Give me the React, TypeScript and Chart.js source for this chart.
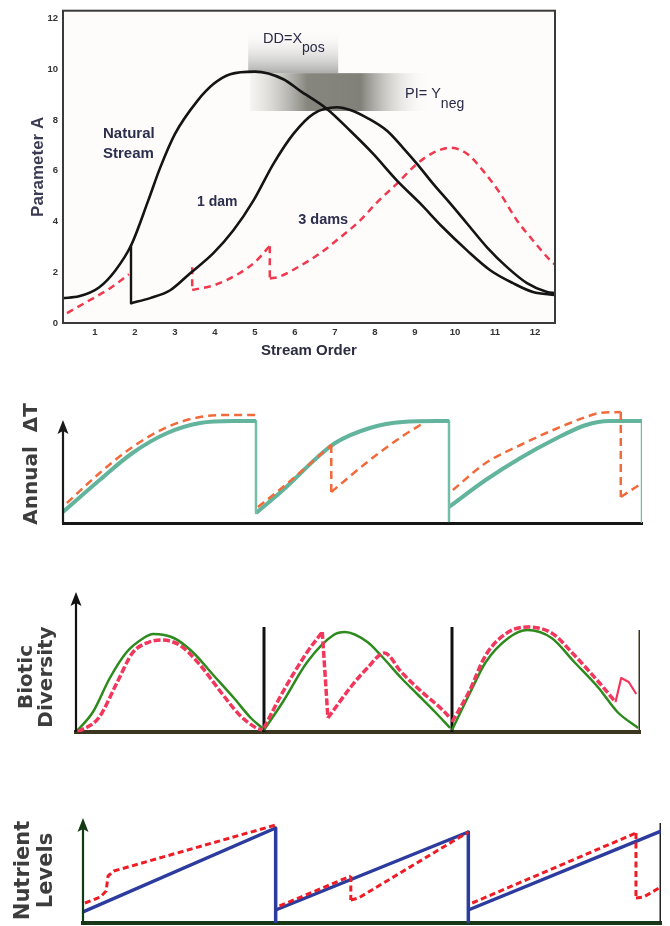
import React, { useEffect, useRef } from 'react';
import { Chart, registerables } from 'chart.js';

Chart.register(...registerables);

type Pt = [number, number];

const FONT = '"Liberation Sans", Arial, Helvetica, sans-serif';
const WIDE = '"DejaVu Sans", Verdana, sans-serif';

// ---------------- Panel 1 : Parameter A vs Stream Order ----------------
const streamOrderTicks = [1, 2, 3, 4, 5, 6, 7, 8, 9, 10, 11, 12];
const parameterTicks = [0, 2, 4, 6, 8, 10, 12];

const naturalStream: Pt[] = [
  [0.2, 0.98], [0.6, 1.05], [1.1, 1.4], [1.5, 2.05], [1.9, 3.05], [2.33, 4.82], [2.63, 6.12],
  [3.0, 7.45], [3.56, 8.75], [3.96, 9.41], [4.38, 9.8], [5.0, 9.9], [5.71, 9.6], [6.13, 9.14],
  [6.8, 8.43], [7.38, 7.57], [7.95, 6.67], [8.55, 5.61], [9.13, 4.71], [9.7, 3.76], [10.3, 2.86],
  [10.88, 2.08], [11.45, 1.57], [11.95, 1.22], [12.5, 1.1],
];
const oneDamDrop: Pt[] = [[1.9, 3.05], [1.9, 0.78]];
const oneDam: Pt[] = [
  [1.9, 0.78], [2.38, 0.98], [2.88, 1.29], [3.38, 1.96], [3.96, 2.75], [4.46, 3.65], [4.96, 4.82],
  [5.46, 6.27], [5.96, 7.45], [6.46, 8.24], [7.05, 8.5], [7.4, 8.38], [7.8, 8.08], [8.3, 7.57],
  [8.7, 6.9], [9.05, 6.27], [9.45, 5.49], [9.88, 4.71], [10.3, 3.92], [10.8, 2.98], [11.3, 2.2],
  [11.8, 1.57], [12.3, 1.22], [12.5, 1.18],
];
const threeDamsA: Pt[] = [[0.3, 0.39], [0.87, 0.9], [1.38, 1.37], [1.85, 1.92]];
const threeDamsDrop1: Pt[] = [[3.43, 2.2], [3.43, 1.3]];
const threeDamsB: Pt[] = [[3.43, 1.3], [4.0, 1.5], [4.6, 1.95], [5.0, 2.4], [5.36, 3.02]];
const threeDamsDrop2: Pt[] = [[5.37, 3.02], [5.37, 1.75]];
const threeDamsC: Pt[] = [
  [5.37, 1.75], [5.6, 1.82], [6.13, 2.25], [6.63, 2.75], [7.13, 3.37], [7.63, 4.04], [8.05, 4.75],
  [8.55, 5.49], [9.05, 6.27], [9.45, 6.7], [9.88, 6.9], [10.3, 6.67], [10.7, 6.0], [11.13, 5.1],
  [11.55, 4.04], [11.95, 3.25], [12.38, 2.47], [12.5, 2.3],
];

// annotation anchors (data coordinates)
const naturalLabelAt: Pt = [1.2, 7.45];
const oneDamLabelAt: Pt = [3.55, 4.75];
const threeDamsLabelAt: Pt = [6.08, 4.04];
const ddLabelAt: Pt = [5.2, 11.2];
const piLabelAt: Pt = [8.75, 9.02];
const ddBoxX = [4.83, 7.08];
const ddBoxY = [9.84, 11.6];
const piBoxX = [4.88, 9.63];
const piBoxY = [8.35, 9.84];

// ---------------- Panel 2 : Annual ΔT ----------------
const tempNaturalA: Pt[] = [[0, 0.11], [0.19, 0.43], [0.36, 0.7], [0.54, 0.9], [0.71, 1.0], [0.88, 1.02], [1.0, 1.02]];
const tempNaturalDrop1: Pt[] = [[1, 1.02], [1, 0.1]];
const tempNaturalB: Pt[] = [[1.0, 0.1], [1.14, 0.33], [1.32, 0.66], [1.41, 0.8], [1.59, 0.95], [1.76, 1.01], [2.0, 1.02]];
const tempNaturalDrop2: Pt[] = [[2, 1.02], [2, 0.02]];
const tempNaturalC: Pt[] = [[2.0, 0.16], [2.19, 0.43], [2.37, 0.65], [2.54, 0.83], [2.71, 0.98], [2.83, 1.02], [3.0, 1.02]];
const tempNaturalDrop3: Pt[] = [[3, 1.02], [3, 0]];

const tempDamA: Pt[] = [[0.02, 0.2], [0.19, 0.5], [0.36, 0.76], [0.54, 0.96], [0.71, 1.06], [0.88, 1.08], [1.0, 1.08]];
const tempDamB: Pt[] = [[1.01, 0.16], [1.14, 0.36], [1.32, 0.66], [1.39, 0.78]];
const tempDamDrop1: Pt[] = [[1.39, 0.78], [1.39, 0.31]];
const tempDamC: Pt[] = [[1.39, 0.31], [1.59, 0.63], [1.76, 0.87], [1.86, 0.99]];
const tempDamD: Pt[] = [[2.02, 0.33], [2.19, 0.6], [2.37, 0.78], [2.54, 0.93], [2.71, 1.06], [2.78, 1.1], [2.89, 1.11]];
const tempDamDrop2: Pt[] = [[2.89, 1.11], [2.89, 0.26]];
const tempDamE: Pt[] = [[2.89, 0.26], [3.0, 0.4]];

// ---------------- Panel 3 : Biotic Diversity ----------------
const bioNaturalA: Pt[] = [[0, 0], [0.09, 0.2], [0.18, 0.54], [0.27, 0.8], [0.36, 0.94], [0.41, 0.98], [0.52, 0.94], [0.62, 0.8], [0.73, 0.57], [0.84, 0.34], [0.93, 0.14], [0.99, 0.04]];
const bioNaturalB: Pt[] = [[1.0, 0.02], [1.1, 0.3], [1.23, 0.7], [1.37, 0.97], [1.43, 1.0], [1.55, 0.9], [1.63, 0.75], [1.73, 0.54], [1.82, 0.37], [1.91, 0.2], [1.99, 0.04]];
const bioNaturalC: Pt[] = [[2.0, 0.02], [2.09, 0.37], [2.18, 0.7], [2.3, 0.94], [2.4, 1.02], [2.53, 0.94], [2.65, 0.7], [2.78, 0.44], [2.88, 0.2], [2.99, 0.04]];
const bioDamA: Pt[] = [[0.01, 0], [0.12, 0.14], [0.22, 0.5], [0.3, 0.79], [0.39, 0.9], [0.45, 0.92], [0.55, 0.87], [0.66, 0.67], [0.77, 0.4], [0.87, 0.17], [0.96, 0.04], [0.99, 0.02]];
const bioDamB: Pt[] = [[1.0, 0.04], [1.1, 0.4], [1.23, 0.8], [1.31, 1.0]];
const bioDamDrop: Pt[] = [[1.31, 1.0], [1.34, 0.14]];
const bioDamC: Pt[] = [[1.34, 0.14], [1.47, 0.47], [1.55, 0.64], [1.64, 0.79], [1.73, 0.6], [1.84, 0.4], [1.95, 0.22], [1.99, 0.14]];
const bioDamD: Pt[] = [[2.0, 0.1], [2.09, 0.4], [2.18, 0.77], [2.3, 1.0], [2.4, 1.05], [2.53, 0.99], [2.65, 0.77], [2.78, 0.5], [2.87, 0.3]];
const bioDamZig: Pt[] = [[2.87, 0.3], [2.9, 0.54], [2.94, 0.5], [2.98, 0.38]];
const bioDividers: Pt[] = [[1, 0], [1, 1.05]];
const bioDividers2: Pt[] = [[2, 0], [2, 1.05]];
const bioDividerEnd: Pt[] = [[3, 0], [3, 1.02]];

// ---------------- Panel 4 : Nutrient Levels ----------------
const nutNaturalA: Pt[] = [[0, 0.11], [1, 0.95]];
const nutNaturalDrop1: Pt[] = [[1, 0.95], [1, 0]];
const nutNaturalB: Pt[] = [[1, 0.13], [2, 0.91]];
const nutNaturalDrop2: Pt[] = [[2, 0.91], [2, 0]];
const nutNaturalC: Pt[] = [[2, 0.13], [3, 0.92]];
const nutEnd: Pt[] = [[3, 0], [3, 1.0]];
const nutDamA: Pt[] = [[0.01, 0.2], [0.09, 0.26], [0.12, 0.32], [0.13, 0.47], [0.16, 0.52], [1.0, 0.98]];
const nutDamB: Pt[] = [[1.02, 0.17], [1.39, 0.47]];
const nutDamDrop1: Pt[] = [[1.39, 0.47], [1.39, 0.23]];
const nutDamC: Pt[] = [[1.39, 0.23], [1.43, 0.25], [2.0, 0.91]];
const nutDamD: Pt[] = [[2.02, 0.2], [2.87, 0.9]];
const nutDamDrop2: Pt[] = [[2.87, 0.9], [2.87, 0.25]];
const nutDamE: Pt[] = [[2.87, 0.25], [2.91, 0.26], [2.99, 0.35]];

// ---------------- helpers ----------------
function ds(pts: Pt[], color: string, width: number, dash: number[] = [], smooth = false) {
  return {
    data: pts.map(([x, y]) => ({ x, y })),
    borderColor: color,
    backgroundColor: color,
    borderWidth: width,
    borderDash: dash,
    pointRadius: 0,
    pointHoverRadius: 0,
    fill: false,
    tension: 0,
    cubicInterpolationMode: smooth ? 'monotone' : 'default',
    borderCapStyle: 'butt',
    borderJoinStyle: 'round',
  };
}

function arrowAxis(color: string, width: number, tip: number) {
  return {
    id: 'arrowAxis',
    afterDatasetsDraw(chart: any) {
      const { ctx, scales } = chart;
      const x = scales.x;
      const y = scales.y;
      const px = x.getPixelForValue(x.min);
      const yb = y.getPixelForValue(0);
      const yt = y.getPixelForValue(tip);
      ctx.save();
      ctx.strokeStyle = color;
      ctx.fillStyle = color;
      ctx.lineWidth = width;
      ctx.beginPath();
      ctx.moveTo(px, yb);
      ctx.lineTo(px, yt + 9);
      ctx.stroke();
      ctx.beginPath();
      ctx.moveTo(px, yt);
      ctx.lineTo(px - 5.5, yt + 14);
      ctx.lineTo(px, yt + 11);
      ctx.lineTo(px + 5.5, yt + 14);
      ctx.closePath();
      ctx.fill();
      ctx.restore();
    },
  };
}

const p1Deco = {
  id: 'p1Deco',
  beforeDatasetsDraw(chart: any) {
    const { ctx, chartArea: a, scales } = chart;
    const x = scales.x;
    const y = scales.y;
    ctx.save();
    ctx.fillStyle = '#fdfcfa';
    ctx.fillRect(a.left, a.top, a.right - a.left, a.bottom - a.top);
    const dx0 = x.getPixelForValue(ddBoxX[0]);
    const dx1 = x.getPixelForValue(ddBoxX[1]);
    const dy0 = y.getPixelForValue(ddBoxY[1]);
    const dy1 = y.getPixelForValue(ddBoxY[0]);
    const g1 = ctx.createLinearGradient(0, dy0, 0, dy1);
    g1.addColorStop(0, 'rgba(255,255,255,0)');
    g1.addColorStop(1, 'rgba(165,165,162,0.9)');
    ctx.fillStyle = g1;
    ctx.fillRect(dx0, dy0, dx1 - dx0, dy1 - dy0);
    const px0 = x.getPixelForValue(piBoxX[0]);
    const px1 = x.getPixelForValue(piBoxX[1]);
    const py0 = y.getPixelForValue(piBoxY[1]);
    const py1 = y.getPixelForValue(piBoxY[0]);
    const g2 = ctx.createLinearGradient(px0, 0, px1, 0);
    g2.addColorStop(0, 'rgba(232,232,228,0.4)');
    g2.addColorStop(0.3, 'rgba(128,128,120,0.95)');
    g2.addColorStop(0.58, 'rgba(122,122,114,0.95)');
    g2.addColorStop(0.95, 'rgba(255,255,255,0)');
    ctx.fillStyle = g2;
    ctx.fillRect(px0, py0, px1 - px0, py1 - py0);
    ctx.restore();
  },
  afterDatasetsDraw(chart: any) {
    const { ctx, chartArea: a, scales } = chart;
    const x = scales.x;
    const y = scales.y;
    ctx.save();
    ctx.strokeStyle = '#3a3a3a';
    ctx.lineWidth = 2;
    ctx.strokeRect(a.left, a.top, a.right - a.left, a.bottom - a.top);
    ctx.fillStyle = '#2c2e4e';
    ctx.textAlign = 'left';
    ctx.textBaseline = 'middle';
    ctx.font = `bold 15px ${FONT}`;
    const nx = x.getPixelForValue(naturalLabelAt[0]);
    const ny = y.getPixelForValue(naturalLabelAt[1]);
    ctx.fillText('Natural', nx, ny);
    ctx.fillText('Stream', nx, ny + 20);
    ctx.font = `bold 14px ${FONT}`;
    ctx.fillText('1 dam', x.getPixelForValue(oneDamLabelAt[0]), y.getPixelForValue(oneDamLabelAt[1]));
    ctx.font = `bold 14.5px ${FONT}`;
    ctx.fillText('3 dams', x.getPixelForValue(threeDamsLabelAt[0]), y.getPixelForValue(threeDamsLabelAt[1]));
    ctx.fillStyle = '#2a2a46';
    ctx.font = `14.5px ${FONT}`;
    const dxp = x.getPixelForValue(ddLabelAt[0]);
    const dyp = y.getPixelForValue(ddLabelAt[1]);
    ctx.fillText('DD=X', dxp, dyp);
    const w1 = ctx.measureText('DD=X').width;
    ctx.font = `14px ${FONT}`;
    ctx.fillText('pos', dxp + w1, dyp + 10);
    ctx.font = `14.5px ${FONT}`;
    const pxp = x.getPixelForValue(piLabelAt[0]);
    const pyp = y.getPixelForValue(piLabelAt[1]);
    ctx.fillText('PI= Y', pxp, pyp);
    const w2 = ctx.measureText('PI= Y').width;
    ctx.font = `14px ${FONT}`;
    ctx.fillText('neg', pxp + w2, pyp + 10);
    ctx.restore();
  },
};

const BLACK = '#141414';
const RED1 = '#f0384e';

function config1(): any {
  return {
    type: 'line',
    data: {
      datasets: [
        ds(naturalStream, BLACK, 2.6, [], true),
        ds(oneDamDrop, BLACK, 2.4),
        ds(oneDam, BLACK, 2.6, [], true),
        ds(threeDamsA, RED1, 2.5, [7, 5], true),
        ds(threeDamsDrop1, RED1, 2.5, [7, 5]),
        ds(threeDamsB, RED1, 2.5, [7, 5], true),
        ds(threeDamsDrop2, RED1, 2.5, [7, 5]),
        ds(threeDamsC, RED1, 2.5, [7, 5], true),
      ],
    },
    options: {
      animation: false,
      responsive: false,
      events: [],
      layout: { padding: { top: 9, right: 115, left: 0, bottom: 0 } },
      plugins: { legend: { display: false }, tooltip: { enabled: false } },
      scales: {
        x: {
          type: 'linear',
          min: 0.2,
          max: 12.5,
          afterBuildTicks: (s: any) => {
            s.ticks = streamOrderTicks.map((v) => ({ value: v }));
          },
          afterFit: (s: any) => {
            s.height = 47;
          },
          grid: { display: false, drawTicks: false },
          border: { display: false },
          ticks: {
            padding: 4,
            color: '#333333',
            autoSkip: false,
            maxRotation: 0,
            font: { family: FONT, size: 9.5, weight: 'bold' },
          },
          title: {
            display: true,
            text: 'Stream Order',
            color: '#2c2c40',
            font: { family: FONT, size: 15, weight: 'bold' },
            padding: { top: 0, bottom: 10 },
          },
        },
        y: {
          type: 'linear',
          min: 0,
          max: 12.3,
          afterBuildTicks: (s: any) => {
            s.ticks = parameterTicks.map((v) => ({ value: v }));
          },
          afterFit: (s: any) => {
            s.width = 63;
          },
          grid: { display: false, drawTicks: false },
          border: { display: false },
          ticks: {
            padding: 5,
            color: '#333333',
            font: { family: FONT, size: 9.5, weight: 'bold' },
          },
          title: {
            display: true,
            text: 'Parameter A',
            color: '#3a3a52',
            font: { family: FONT, size: 17, weight: 'bold' },
            padding: { top: 28, bottom: 0 },
          },
        },
      },
    },
    plugins: [p1Deco],
  };
}

function stripConfig(o: {
  datasets: any[];
  yMax: number;
  padTop: number;
  padRight: number;
  left: number;
  bottom: number;
  title: string | string[];
  titleSize: number;
  titleLH: number;
  titlePad: number;
  baseColor: string;
  baseWidth: number;
  axisColor: string;
  axisTip: number;
}): any {
  return {
    type: 'line',
    data: { datasets: o.datasets },
    options: {
      animation: false,
      responsive: false,
      events: [],
      layout: { padding: { top: o.padTop, right: o.padRight, left: 0, bottom: 0 } },
      plugins: { legend: { display: false }, tooltip: { enabled: false } },
      scales: {
        x: {
          type: 'linear',
          min: 0,
          max: 3,
          afterFit: (s: any) => {
            s.height = o.bottom;
          },
          ticks: { display: false },
          grid: { display: false, drawTicks: false },
          border: { display: true, color: o.baseColor, width: o.baseWidth },
        },
        y: {
          type: 'linear',
          min: 0,
          max: o.yMax,
          afterFit: (s: any) => {
            s.width = o.left;
          },
          ticks: { display: false },
          grid: { display: false, drawTicks: false },
          border: { display: false },
          title: {
            display: true,
            text: o.title,
            color: '#3d3d3d',
            font: { family: WIDE, size: o.titleSize, weight: 'bold', lineHeight: o.titleLH },
            padding: { top: o.titlePad, bottom: 0 },
          },
        },
      },
    },
    plugins: [arrowAxis(o.axisColor, 2.2, o.axisTip)],
  };
}

const TEAL = '#62b49c';
const TEAL_V = '#74bea9';
const ORANGE = '#f26a3b';
const GREEN = '#2d8a1d';
const PINK = '#f2365c';
const BLUE = '#2c3b9e';
const RED4 = '#ee1c25';

function config2(): any {
  return stripConfig({
    datasets: [
      ds(tempDamA, ORANGE, 2.5, [8, 5], true),
      ds(tempDamB, ORANGE, 2.5, [8, 5], true),
      ds(tempDamDrop1, ORANGE, 2.5, [8, 5]),
      ds(tempDamC, ORANGE, 2.5, [8, 5], true),
      ds(tempDamD, ORANGE, 2.5, [8, 5], true),
      ds(tempDamDrop2, ORANGE, 2.5, [8, 5]),
      ds(tempDamE, ORANGE, 2.5, [8, 5]),
      ds(tempNaturalA, TEAL, 4, [], true),
      ds(tempNaturalDrop1, TEAL_V, 2.5),
      ds(tempNaturalB, TEAL, 4, [], true),
      ds(tempNaturalDrop2, TEAL_V, 2.5),
      ds(tempNaturalC, TEAL, 4, [], true),
      ds(tempNaturalDrop3, TEAL_V, 2.5),
    ],
    yMax: 1.18,
    padTop: 25,
    padRight: 28,
    left: 63,
    bottom: 17,
    title: 'Annual  ΔT',
    titleSize: 20,
    titleLH: 1.2,
    titlePad: 20,
    baseColor: '#161616',
    baseWidth: 3,
    axisColor: '#1a1a1a',
    axisTip: 1.03,
  });
}

function config3(): any {
  return stripConfig({
    datasets: [
      ds(bioDamA, PINK, 3.5, [7, 2.5], true),
      ds(bioDamB, PINK, 3.5, [7, 2.5], true),
      ds(bioDamDrop, PINK, 3.5, [7, 2.5]),
      ds(bioDamC, PINK, 3.5, [7, 2.5], true),
      ds(bioDamD, PINK, 3.5, [7, 2.5], true),
      ds(bioDamZig, PINK, 2.2),
      ds(bioNaturalA, GREEN, 2.5, [], true),
      ds(bioNaturalB, GREEN, 2.5, [], true),
      ds(bioNaturalC, GREEN, 2.5, [], true),
      ds(bioDividers, '#111111', 3),
      ds(bioDividers2, '#111111', 3),
      ds(bioDividerEnd, '#3a3520', 3),
    ],
    yMax: 1.1,
    padTop: 37,
    padRight: 30,
    left: 76,
    bottom: 13,
    title: ['Biotic', 'Diversity'],
    titleSize: 20,
    titleLH: 1.0,
    titlePad: 17,
    baseColor: '#3b3620',
    baseWidth: 4,
    axisColor: '#111111',
    axisTip: 1.4,
  });
}

function config4(): any {
  return stripConfig({
    datasets: [
      ds(nutDamA, RED4, 3, [6, 3.5]),
      ds(nutDamB, RED4, 3, [6, 3.5]),
      ds(nutDamDrop1, RED4, 3, [6, 3.5]),
      ds(nutDamC, RED4, 3, [6, 3.5]),
      ds(nutDamD, RED4, 3, [6, 3.5]),
      ds(nutDamDrop2, RED4, 3, [6, 3.5]),
      ds(nutDamE, RED4, 3, [6, 3.5]),
      ds(nutNaturalA, BLUE, 3.5),
      ds(nutNaturalDrop1, BLUE, 3.5),
      ds(nutNaturalB, BLUE, 3.5),
      ds(nutNaturalDrop2, BLUE, 3.5),
      ds(nutNaturalC, BLUE, 3.5),
      ds(nutEnd, '#222222', 3),
    ],
    yMax: 1.05,
    padTop: 18,
    padRight: 9,
    left: 83,
    bottom: 3,
    title: ['Nutrient', 'Levels'],
    titleSize: 21,
    titleLH: 1.05,
    titlePad: 13,
    baseColor: '#163816',
    baseWidth: 4,
    axisColor: '#123a14',
    axisTip: 1.05,
  });
}

export default function App() {
  const r1 = useRef<HTMLCanvasElement>(null);
  const r2 = useRef<HTMLCanvasElement>(null);
  const r3 = useRef<HTMLCanvasElement>(null);
  const r4 = useRef<HTMLCanvasElement>(null);

  useEffect(() => {
    const charts: Chart[] = [];
    if (r1.current) charts.push(new Chart(r1.current, config1()));
    if (r2.current) charts.push(new Chart(r2.current, config2()));
    if (r3.current) charts.push(new Chart(r3.current, config3()));
    if (r4.current) charts.push(new Chart(r4.current, config4()));
    return () => charts.forEach((c) => c.destroy());
  }, []);

  const wrap: React.CSSProperties = {
    position: 'absolute',
    left: 0,
    top: 0,
    width: 670,
    height: 926,
    background: '#ffffff',
    overflow: 'hidden',
  };
  const cv = (top: number, h: number): React.CSSProperties => ({
    position: 'absolute',
    left: 0,
    top,
    width: 670,
    height: h,
    display: 'block',
  });

  return (
    <div style={wrap}>
      <canvas ref={r1} width={670} height={370} style={cv(0, 370)} />
      <canvas ref={r2} width={670} height={160} style={cv(380, 160)} />
      <canvas ref={r3} width={670} height={160} style={cv(585, 160)} />
      <canvas ref={r4} width={670} height={126} style={cv(800, 126)} />
    </div>
  );
}
